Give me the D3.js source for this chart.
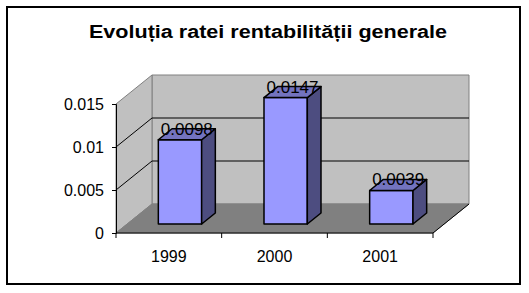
<!DOCTYPE html>
<html>
<head>
<meta charset="utf-8">
<script src="https://cdn.jsdelivr.net/npm/d3@7"></script>
<style>
  html, body { margin: 0; padding: 0; background: #fff; }
  text { font-family: "Liberation Sans", Arial, sans-serif; }
</style>
</head>
<body>
<div id="chart"></div>
<script>
"use strict";

// data
const years = ["1999", "2000", "2001"];
const values = [0.0098, 0.0147, 0.0039];
const yTicks = [0, 0.005, 0.01, 0.015];
const title = "Evoluția ratei rentabilității generale";

const width = 529, height = 293;

// 3D depth of the plot box (offset of back wall)
const DX = 36, DY = -29;
// bar sits between these fractions of depth
const f1 = 0.31, f2 = 0.69;

const svg = d3.select("#chart").append("svg")
  .attr("width", width)
  .attr("height", height);

// outer frame
svg.append("rect")
  .attr("x", 7).attr("y", 7)
  .attr("width", 513).attr("height", 277)
  .attr("fill", "#fff")
  .attr("stroke", "#000")
  .attr("stroke-width", 2);

svg.append("text")
  .attr("x", 268).attr("y", 38)
  .attr("text-anchor", "middle")
  .attr("font-size", 18)
  .attr("font-weight", "bold")
  .attr("textLength", 358)
  .attr("lengthAdjust", "spacingAndGlyphs")
  .text(title);

const x = d3.scaleBand().domain(years).range([116, 433]);
const y = d3.scaleLinear().domain([0, 0.015]).range([233, 104]);

const x0 = x.range()[0], x1 = x.range()[1];
const yb = y(0), yt = y(0.015);

const pts = a => a.map(p => p.join(",")).join(" ");

// back wall
svg.append("polygon")
  .attr("points", pts([[x0 + DX, yb + DY], [x1 + DX, yb + DY], [x1 + DX, yt + DY], [x0 + DX, yt + DY]]))
  .attr("fill", "#c0c0c0")
  .attr("stroke", "#808080");

// left wall
svg.append("polygon")
  .attr("points", pts([[x0, yb], [x0 + DX, yb + DY], [x0 + DX, yt + DY], [x0, yt]]))
  .attr("fill", "#c0c0c0")
  .attr("stroke", "#808080");

// floor
svg.append("polygon")
  .attr("points", pts([[x0, yb], [x1, yb], [x1 + DX, yb + DY], [x0 + DX, yb + DY]]))
  .attr("fill", "#808080")
  .attr("stroke", "#808080");

// gridlines (left wall + back wall)
const grid = yTicks.filter(t => t > 0 && t < 0.015);
svg.selectAll(".grid")
  .data(grid)
  .join("polyline")
    .attr("points", t => pts([[x0, y(t)], [x0 + DX, y(t) + DY], [x1 + DX, y(t) + DY]]))
    .attr("fill", "none")
    .attr("stroke", "#000")
    .attr("stroke-width", 1);

// right floor edge
svg.append("line")
  .attr("x1", x1).attr("y1", yb)
  .attr("x2", x1 + DX).attr("y2", yb + DY)
  .attr("stroke", "#000");

// axes
const yAxis = d3.axisLeft(y).tickValues(yTicks).tickSize(4).tickFormat(d3.format("~g"));
const gy = svg.append("g").attr("transform", `translate(${x0},0)`).call(yAxis);
gy.select(".domain").attr("stroke", "#000");
gy.selectAll("text")
  .attr("font-size", 16)
  .attr("font-family", "Liberation Sans, Arial, sans-serif")
  .attr("fill", "#000")
  .attr("x", -12);

svg.append("line")
  .attr("x1", x0).attr("y1", yb)
  .attr("x2", x1).attr("y2", yb)
  .attr("stroke", "#000");

// x ticks at band boundaries
const bounds = years.map(c => x(c)).concat([x1]);
svg.selectAll(".xtick")
  .data(bounds)
  .join("line")
    .attr("x1", d => d).attr("x2", d => d)
    .attr("y1", yb).attr("y2", yb + 5)
    .attr("stroke", "#000");

svg.selectAll(".xlab")
  .data(years)
  .join("text")
    .attr("x", d => x(d) + x.bandwidth() / 2)
    .attr("y", 262)
    .attr("text-anchor", "middle")
    .attr("font-size", 16)
    .text(d => d);

// bars
const bw = x.bandwidth() * 0.41;
const ddx = (f2 - f1) * DX, ddy = (f2 - f1) * DY;
const data = years.map((c, i) => ({ c, v: values[i] }));

const bar = svg.selectAll(".bar")
  .data(data)
  .join("g")
    .attr("class", "bar")
    .attr("transform", d => `translate(${x(d.c) + x.bandwidth() / 2 - bw / 2 + f1 * DX},${f1 * DY})`);

// front
bar.append("rect")
  .attr("x", 0)
  .attr("y", d => y(d.v))
  .attr("width", bw)
  .attr("height", d => y(0) - y(d.v))
  .attr("fill", "#9999ff")
  .attr("stroke", "#000")
  .attr("stroke-width", 1.5)
  .attr("stroke-linejoin", "round");

// side
bar.append("polygon")
  .attr("points", d => pts([[bw, y(d.v)], [bw + ddx, y(d.v) + ddy], [bw + ddx, y(0) + ddy], [bw, y(0)]]))
  .attr("fill", "#4d4d80")
  .attr("stroke", "#000")
  .attr("stroke-width", 1.5)
  .attr("stroke-linejoin", "round");

// top
bar.append("polygon")
  .attr("points", d => pts([[0, y(d.v)], [ddx, y(d.v) + ddy], [bw + ddx, y(d.v) + ddy], [bw, y(d.v)]]))
  .attr("fill", "#7373bf")
  .attr("stroke", "#000")
  .attr("stroke-width", 1.5)
  .attr("stroke-linejoin", "round");

// value labels
bar.append("text")
  .attr("x", bw / 2 + ddx / 2)
  .attr("y", d => y(d.v) - 5)
  .attr("text-anchor", "middle")
  .attr("font-size", 17)
  .text(d => d3.format(".4f")(d.v));
</script>
</body>
</html>
